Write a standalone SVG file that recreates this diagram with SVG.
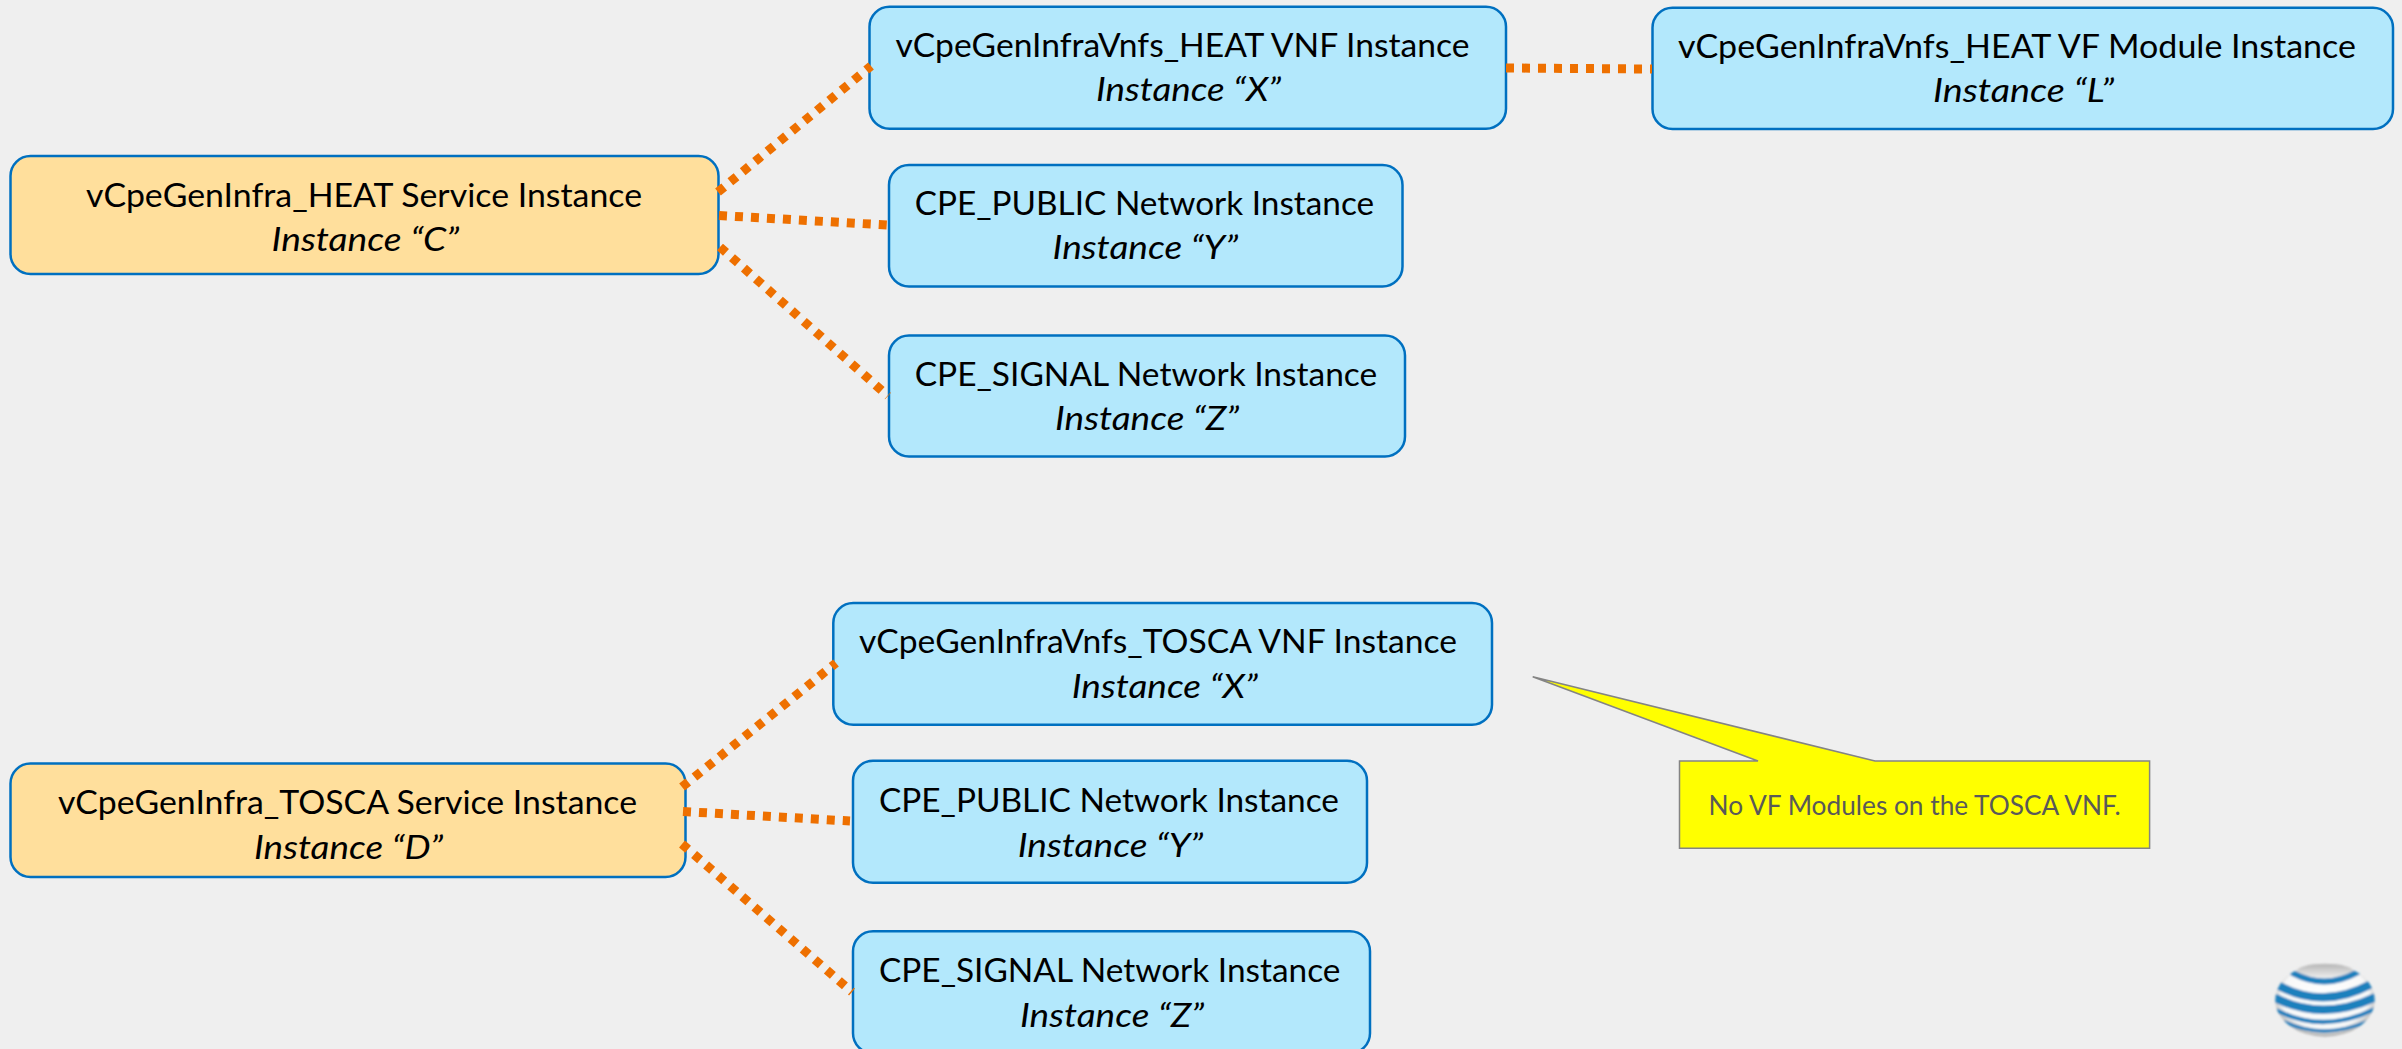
<svg xmlns="http://www.w3.org/2000/svg" width="2402" height="1049" viewBox="0 0 2402 1049">
<style>
.bg{fill:#efefef}
.blue{fill:#b3e8fc;stroke:#0070c0;stroke-width:2.5}
.tan{fill:#ffdf9c;stroke:#0070c0;stroke-width:2.5}
text{font-family:"Lato","Carlito","Liberation Sans",sans-serif;fill:#000;font-size:33px}
.i{font-style:italic}
.note{fill:#595959;font-size:26px}
.conn{fill:none;stroke:#ee7000;stroke-width:9;stroke-dasharray:8 8}
.callout{fill:#ff0;stroke:#848484;stroke-width:1.5}
.st{fill:none;stroke:#1a80bd;stroke-linecap:round}
</style>
<defs>
<radialGradient id="globe" cx="0.5" cy="0.45" r="0.55">
<stop offset="0" stop-color="#ffffff"/><stop offset="0.8" stop-color="#f8f8f8"/><stop offset="1" stop-color="#adadad"/>
</radialGradient>
<linearGradient id="cap" x1="0" y1="0" x2="0" y2="1">
<stop offset="0" stop-color="#b5b5b5"/><stop offset="1" stop-color="#fafafa"/>
</linearGradient>
<clipPath id="gc"><ellipse cx="255" cy="180" rx="149" ry="110"/></clipPath>
<filter id="soft" x="-10%" y="-10%" width="120%" height="120%"><feGaussianBlur stdDeviation="2.4"/></filter>
</defs>
<rect class="bg" x="0" y="0" width="2402" height="1049"/>
<g id="node-c">
<rect class="tan" x="10.5" y="156" width="708" height="118" rx="20"/>
<text x="86" y="206.7" textLength="556" lengthAdjust="spacingAndGlyphs">vCpeGenInfra_HEAT Service Instance</text>
<text class="i" x="271.5" y="250.7" textLength="187.5" lengthAdjust="spacingAndGlyphs">Instance “C”</text>
</g>
<g id="node-heat-vnf">
<rect class="blue" x="869.5" y="6.7" width="636.5" height="122" rx="20"/>
<text x="895.5" y="56.7" textLength="574" lengthAdjust="spacingAndGlyphs">vCpeGenInfraVnfs_HEAT VNF Instance</text>
<text class="i" x="1096" y="100.7" textLength="185" lengthAdjust="spacingAndGlyphs">Instance “X”</text>
</g>
<g id="node-heat-vf">
<rect class="blue" x="1652.5" y="7.7" width="740.5" height="121.3" rx="20"/>
<text x="1678" y="58" textLength="678" lengthAdjust="spacingAndGlyphs">vCpeGenInfraVnfs_HEAT VF Module Instance</text>
<text class="i" x="1933" y="102" textLength="181" lengthAdjust="spacingAndGlyphs">Instance “L”</text>
</g>
<g id="node-heat-public">
<rect class="blue" x="889" y="165" width="513.5" height="121.5" rx="20"/>
<text x="914.7" y="215" textLength="459.5" lengthAdjust="spacingAndGlyphs">CPE_PUBLIC Network Instance</text>
<text class="i" x="1052.5" y="259" textLength="185.5" lengthAdjust="spacingAndGlyphs">Instance “Y”</text>
</g>
<g id="node-heat-signal">
<rect class="blue" x="889" y="335.5" width="516" height="121" rx="20"/>
<text x="914.7" y="385.5" textLength="462.5" lengthAdjust="spacingAndGlyphs">CPE_SIGNAL Network Instance</text>
<text class="i" x="1055" y="429.5" textLength="184" lengthAdjust="spacingAndGlyphs">Instance “Z”</text>
</g>
<g id="node-d">
<rect class="tan" x="10.5" y="763.5" width="675" height="113.5" rx="20"/>
<text x="58" y="814" textLength="579" lengthAdjust="spacingAndGlyphs">vCpeGenInfra_TOSCA Service Instance</text>
<text class="i" x="254" y="858.7" textLength="189" lengthAdjust="spacingAndGlyphs">Instance “D”</text>
</g>
<g id="node-tosca-vnf">
<rect class="blue" x="833.3" y="603" width="658.7" height="121.7" rx="20"/>
<text x="859" y="653.3" textLength="598" lengthAdjust="spacingAndGlyphs">vCpeGenInfraVnfs_TOSCA VNF Instance</text>
<text class="i" x="1071.7" y="698.3" textLength="186" lengthAdjust="spacingAndGlyphs">Instance “X”</text>
</g>
<g id="node-tosca-public">
<rect class="blue" x="853" y="760.7" width="514" height="122" rx="20"/>
<text x="879" y="811.7" textLength="460" lengthAdjust="spacingAndGlyphs">CPE_PUBLIC Network Instance</text>
<text class="i" x="1017.7" y="856.7" textLength="185.5" lengthAdjust="spacingAndGlyphs">Instance “Y”</text>
</g>
<g id="node-tosca-signal">
<rect class="blue" x="853" y="931.3" width="517" height="122" rx="20"/>
<text x="879" y="981.7" textLength="461.5" lengthAdjust="spacingAndGlyphs">CPE_SIGNAL Network Instance</text>
<text class="i" x="1020" y="1026.7" textLength="184" lengthAdjust="spacingAndGlyphs">Instance “Z”</text>
</g>
<g id="connectors">
<path class="conn" d="M718 192L871 66"/>
<path class="conn" d="M719 215.5L887 225"/>
<path class="conn" d="M720 247L888 396"/>
<path class="conn" d="M1506 68L1652 69"/>
<path class="conn" d="M682 787L836 663"/>
<path class="conn" d="M683 811.5L850 821"/>
<path class="conn" d="M682 844L852 992"/>
</g>
<g id="note">
<path class="callout" d="M1679.5 761H1758L1532.7 676.7L1875 761H2149.6V848.3H1679.5Z"/>
<text class="note" x="1708.6" y="815" textLength="412" lengthAdjust="spacingAndGlyphs">No VF Modules on the TOSCA VNF.</text>
</g>
<g id="logo" transform="translate(2240 940) scale(0.3333)">
<g filter="url(#soft)">
<ellipse cx="255" cy="180" rx="149" ry="110" fill="url(#globe)"/>
<ellipse cx="255" cy="97" rx="88" ry="26" fill="url(#cap)"/>
<g clip-path="url(#gc)">
<path class="st" stroke-width="18" d="M160 100Q255 150 352 97"/>
<path class="st" stroke-width="25" d="M118 138Q250 208 388 135"/>
<path class="st" stroke-width="25" d="M108 175Q250 245 405 172"/>
<path class="st" stroke-width="13" d="M112 212Q250 282 402 208"/>
<path class="st" stroke-width="10" d="M135 246Q250 300 378 246"/>
</g>
</g>
</g>
</svg>
